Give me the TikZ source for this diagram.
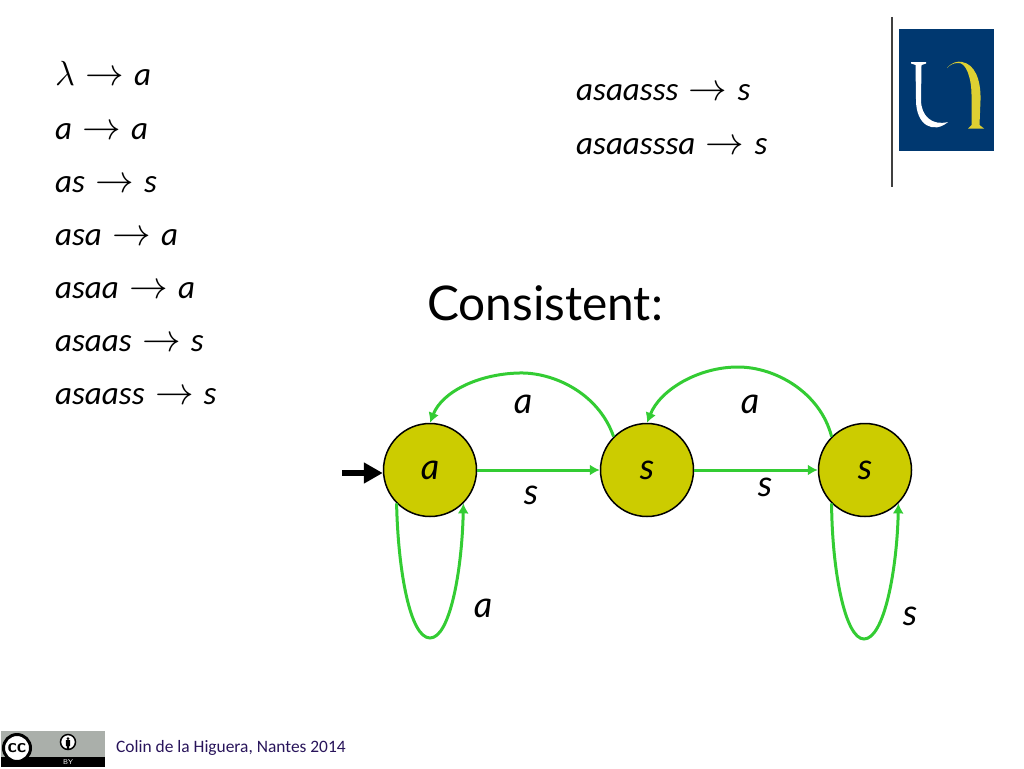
\documentclass[tikz,border=0pt]{standalone}
\usepackage{fontspec}
\setmainfont{Carlito}
\newfontfamily\lab{Lato}
\usetikzlibrary{arrows.meta}
\definecolor{olivey}{RGB}{204,204,0}
\definecolor{edgegreen}{RGB}{51,204,51}
\definecolor{navy}{RGB}{0,56,112}
\definecolor{logoyel}{RGB}{222,208,50}
\definecolor{ccgrey}{RGB}{170,175,170}
\definecolor{foot}{RGB}{40,20,90}
\tikzset{
 rule/.style={anchor=base west,inner sep=0pt,font=\fontsize{33}{33}\selectfont\itshape},
 state/.style={circle,draw=black,fill=olivey,line width=1.5pt,minimum size=93pt,inner sep=0pt,font=\lab\fontsize{36}{36}\selectfont\itshape},
 edgelab/.style={inner sep=0pt,font=\lab\fontsize{36}{36}\selectfont\itshape},
 edge/.style={draw=edgegreen,line width=3pt,-{Latex[length=10pt,width=11pt]}},
}
\newcommand{\ar}{\hspace{10.5pt}\scalebox{1.55}{$\rightarrow$}\hspace{10pt}}
\begin{document}
\begin{tikzpicture}[x=1pt,y=-1pt]
\useasboundingbox (0,0) rectangle (1024,768);
% rules
\node[rule] (r1) at (55,85) {\scalebox{1.4}{$\lambda$}\ar a};
\node[rule] (r2) at (55,139) {a\ar a};
\node[rule] (r3) at (55,192) {as\ar s};
\node[rule] (r4) at (55,245) {asa\ar a};
\node[rule] (r5) at (55,298) {asaa\ar a};
\node[rule] (r6) at (55,351) {asaas\ar s};
\node[rule] (r7) at (55,404) {asaass\ar s};
\node[rule] (r8) at (576,100) {asaasss\ar s};
\node[rule] (r9) at (576,154) {asaasssa\ar s};
\node[anchor=base west,inner sep=0pt,font=\lab\fontsize{47.8}{47.8}\selectfont] (title) at (427,320) {Consistent:};
% logo
\draw[black!75,line width=1.2pt] (892,17) -- (892,187);
\fill[navy] (899,29) rectangle (994,151);
\fill[white] (911,62) -- (926,62) -- (926,63.5) -- (921.5,65) -- (921,100) .. controls (921,116) and (932,126) .. (948,122) .. controls (934,134) and (916,126) .. (916,100) -- (915.5,65) -- (911,63.5) -- cycle;
\fill[logoyel] (947,68) .. controls (952,62) and (958,61) .. (962,62) .. controls (974,64) and (981,78) .. (980.5,100) -- (979.5,125) -- (984,128.5) -- (968,128.5) -- (971.5,125) -- (971.5,95) .. controls (971.5,78) and (966,62) .. (958,63) .. controls (953,63) and (950,65) .. (947,68) -- cycle;
% states
\node[state] (a) at (430,470) {\raisebox{-4pt}{a}};
\node[state] (b) at (647,470) {\raisebox{-4pt}{s}};
\node[state] (c) at (865,470) {\raisebox{-4pt}{s}};
\coordinate (start) at (342,473);
\draw[black,line width=6pt,-{Triangle[length=19pt,width=20pt]}] (start) -- (a.west |- start);
% edges
\draw[edge] (a.east) -- (b.west);
\draw[edge] (b.east) -- (c.west);
\draw[edge] (b.135) .. controls (598,392) and (552,372) .. (519,373) .. controls (478,374) and (442,392) .. (a.north);
\draw[edge] (c.135) .. controls (820,392) and (775,367) .. (738,367) .. controls (698,367) and (660,390) .. (b.north);
\draw[edge] (a.225) .. controls (398,570) and (410,638) .. (430,638) .. controls (450,638) and (462,570) .. (a.315);
\draw[edge] (c.225) .. controls (832,570) and (845,639) .. (864,639) .. controls (884,639) and (897,570) .. (c.315);
% edge labels
\node[edgelab] (l1) at (523,404) {a};
\node[edgelab] (l2) at (750,404) {a};
\node[edgelab] (l3) at (531,495) {s};
\node[edgelab] (l4) at (765,487) {s};
\node[edgelab] (l5) at (483,608) {a};
\node[edgelab] (l6) at (910,616) {s};
% licence badge
\fill[ccgrey] (1,731) rectangle (105,767);
\fill[black] (1,757) rectangle (105,767);
\node[circle,draw=black,fill=white,line width=3pt,minimum size=27pt,inner sep=0pt,font=\sffamily\bfseries\fontsize{19}{19}\selectfont] (cc) at (17,748) {cc};
\node[circle,draw=black,fill=white,line width=1.5pt,minimum size=15pt,inner sep=0pt] (by) at (68,742) {};
\fill[black] (by.center) ++(0,-3.5) circle (1.5pt);
\fill[black] (65.8,740) rectangle (70.2,746) (66.8,746) rectangle (69.2,749);
\node[inner sep=0pt,text=white,font=\sffamily\fontsize{7}{7}\selectfont] (bytext) at (68,762) {BY};
\node[anchor=base west,inner sep=0pt,text=foot,font=\fontsize{17.4}{17.4}\selectfont] (credit) at (116,752) {Colin de la Higuera, Nantes 2014};
\end{tikzpicture}
\end{document}
